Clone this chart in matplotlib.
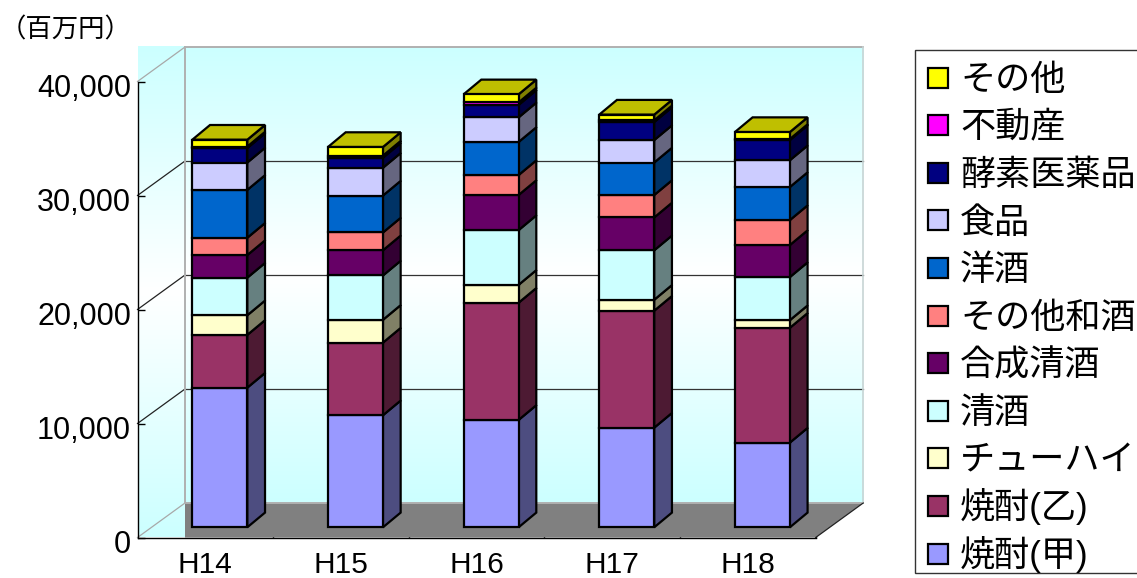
import matplotlib
matplotlib.use('Agg')
import matplotlib.pyplot as plt
import numpy as np
from matplotlib.colors import LinearSegmentedColormap, to_rgb
from matplotlib.patches import Polygon, Rectangle
from matplotlib.transforms import ScaledTranslation

plt.rcParams['font.family'] = ['Liberation Sans', 'Noto Sans CJK JP']

years = ['H14', 'H15', 'H16', 'H17', 'H18']
series_names = ['焼酎(甲)', '焼酎(乙)', 'チューハイ', '清酒', '合成清酒', 'その他和酒',
                '洋酒', '食品', '酵素医薬品', '不動産', 'その他']
colors = ['#9999FF', '#993366', '#FFFFCC', '#CCFFFF', '#660066', '#FF8080',
          '#0066CC', '#CCCCFF', '#000080', '#FF00FF', '#FFFF00']

shochu_ko = [12250, 9830, 9420, 8740, 7430]
shochu_otsu = [4630, 6370, 10280, 10260, 10070]
chuhai = [1720, 2000, 1570, 960, 670]
seishu = [3300, 3890, 4800, 4340, 3780]
gosei = [1980, 2210, 3080, 2880, 2810]
sonota_washu = [1520, 1560, 1750, 1970, 2190]
yoshu = [4200, 3240, 2900, 2850, 2900]
shokuhin = [2400, 2440, 2160, 1970, 2350]
koso = [1270, 880, 1090, 1580, 1770]
fudosan = [130, 180, 220, 150, 90]
sonota = [600, 760, 710, 500, 610]
values = [shochu_ko, shochu_otsu, chuhai, seishu, gosei, sonota_washu,
          yoshu, shokuhin, koso, fudosan, sonota]

fig = plt.figure(figsize=(11.37, 5.78), dpi=100)
W, H = 1137, 578

# front plane of the fake 3d box
ax = fig.add_axes([137.5 / W, (H - 537.5) / H, 678.2 / W, 456 / H])
ax.set_xlim(0, 5)
ax.set_ylim(0, 40000)
px_x = 5 / 678.2
px_y = 40000 / 456

# depth offsets in data units
wall_dx = 47.5 * px_x
wall_dy = 34.5 * px_y
bar_w = 55 * px_x
bar_dx = 17.7 * px_x
bar_dy = 14.7 * px_y
bar_shift_x = 14.5 * px_x
bar_shift_y = 10.2 * px_y

cmap = LinearSegmentedColormap.from_list('wall', ['#CCFFFF', '#FFFFFF', '#CCFFFF'])
grad = np.linspace(0, 1, 256).reshape(-1, 1)

# side wall and back wall
ax.imshow(grad, cmap=cmap, aspect='auto', zorder=1, clip_on=False,
          extent=(0, wall_dx, 0, 40000 + wall_dy))
ax.imshow(grad, cmap=cmap, aspect='auto', zorder=1, clip_on=False,
          extent=(wall_dx, 5 + wall_dx, wall_dy, 40000 + wall_dy))
ax.set_xlim(0, 5)
ax.set_ylim(0, 40000)

floor = Polygon([(wall_dx, 0), (wall_dx, wall_dy), (5 + wall_dx, wall_dy), (5, 0)],
                facecolor='#808080', edgecolor='none', zorder=2, clip_on=False)
ax.add_patch(floor)

ticks = [0, 10000, 20000, 30000, 40000]
for t in ticks:
    c = '#A8A8A8' if t in (0, 40000) else '#222222'
    ax.plot([0, wall_dx], [t, t + wall_dy], color=c, lw=0.9, zorder=3, clip_on=False)
    if t in (0, 40000):
        ax.plot([wall_dx, 5 + wall_dx], [t + wall_dy, t + wall_dy], color='#B0B0B0',
                lw=1.4, zorder=3, clip_on=False)
    else:
        ax.plot([wall_dx, 5 + wall_dx], [t + wall_dy, t + wall_dy], color='#333333',
                lw=0.9, zorder=3, clip_on=False)
ax.plot([wall_dx, wall_dx], [wall_dy, 40000 + wall_dy], color='#B0B0B0', lw=1.4, zorder=3, clip_on=False)
ax.plot([5 + wall_dx, 5 + wall_dx], [wall_dy, 40000 + wall_dy], color='#C8D4D4', lw=1.2, zorder=3, clip_on=False)
ax.plot([5, 5 + wall_dx], [0, wall_dy], color='#222222', lw=0.9, zorder=3, clip_on=False)


def shade(col, k):
    return tuple(v * k for v in to_rgb(col))


centers = np.arange(len(years)) + 0.5
bottom = np.zeros(len(years))
edge = dict(edgecolor='black', linewidth=1.6, joinstyle='miter')
for vals, col in zip(values, colors):
    vals = np.array(vals)
    ax.bar(centers + bar_shift_x, vals, width=bar_w, bottom=bottom + bar_shift_y,
           color=col, zorder=6, clip_on=False, **edge)
    for i in range(len(years)):
        xr = centers[i] + bar_shift_x + bar_w / 2
        y0 = bottom[i] + bar_shift_y
        y1 = y0 + vals[i]
        ax.add_patch(Polygon([(xr, y0), (xr + bar_dx, y0 + bar_dy),
                              (xr + bar_dx, y1 + bar_dy), (xr, y1)],
                             facecolor=shade(col, 0.5), zorder=5, clip_on=False, **edge))
    bottom = bottom + vals

# caps on top of the stacks
cap = colors[-1]
for i in range(len(years)):
    xl = centers[i] + bar_shift_x - bar_w / 2
    xr = xl + bar_w
    y = bottom[i] + bar_shift_y
    ax.add_patch(Polygon([(xl, y), (xr, y), (xr + bar_dx, y + bar_dy), (xl + bar_dx, y + bar_dy)],
                         facecolor=shade(cap, 0.75), zorder=5, clip_on=False, **edge))

for s in ['top', 'right']:
    ax.spines[s].set_visible(False)
for s in ['left', 'bottom']:
    ax.spines[s].set_linewidth(1.0)
    ax.spines[s].set_zorder(8)

ax.set_yticks(ticks)
ax.set_yticklabels(['{:,}'.format(t) for t in ticks])
ax.set_xticks(range(1, 6))
ax.set_xticklabels([])
ax.set_xticks(centers, years, minor=True)
ax.tick_params(axis='y', direction='in', length=5, width=1, labelsize=22, pad=4.6)
ax.tick_params(axis='x', which='major', direction='in', length=5, width=1, zorder=8)
ax.tick_params(axis='x', which='minor', length=0, labelsize=21.5, pad=9.5)

# tick labels sit a little below their ticks in the original
for lab in ax.get_yticklabels():
    lab.set_transform(lab.get_transform() + ScaledTranslation(0, -4 / 100, fig.dpi_scale_trans))

fig.text(0, (H - 30) / H, '（百万円）', fontsize=19, va='center', ha='left')

# legend drawn by hand, the frame runs off the right side of the picture
fig.add_artist(Rectangle((915 / W, (H - 572.7) / H), 240 / W, 522.7 / H, transform=fig.transFigure,
                         facecolor='white', edgecolor='#333333', linewidth=1.0))
for i, (name, col) in enumerate(zip(series_names[::-1], colors[::-1])):
    row = 77.5 + 47.6 * i
    fig.add_artist(Rectangle((928 / W, (H - row - 10) / H), 20 / W, 20 / H, transform=fig.transFigure,
                             facecolor=col, edgecolor='black', linewidth=1.6))
    fig.text(960 / W, (H - row - 12.5) / H, name, fontsize=25.3, va='baseline', ha='left')

fig.savefig('out.png', dpi=100)
